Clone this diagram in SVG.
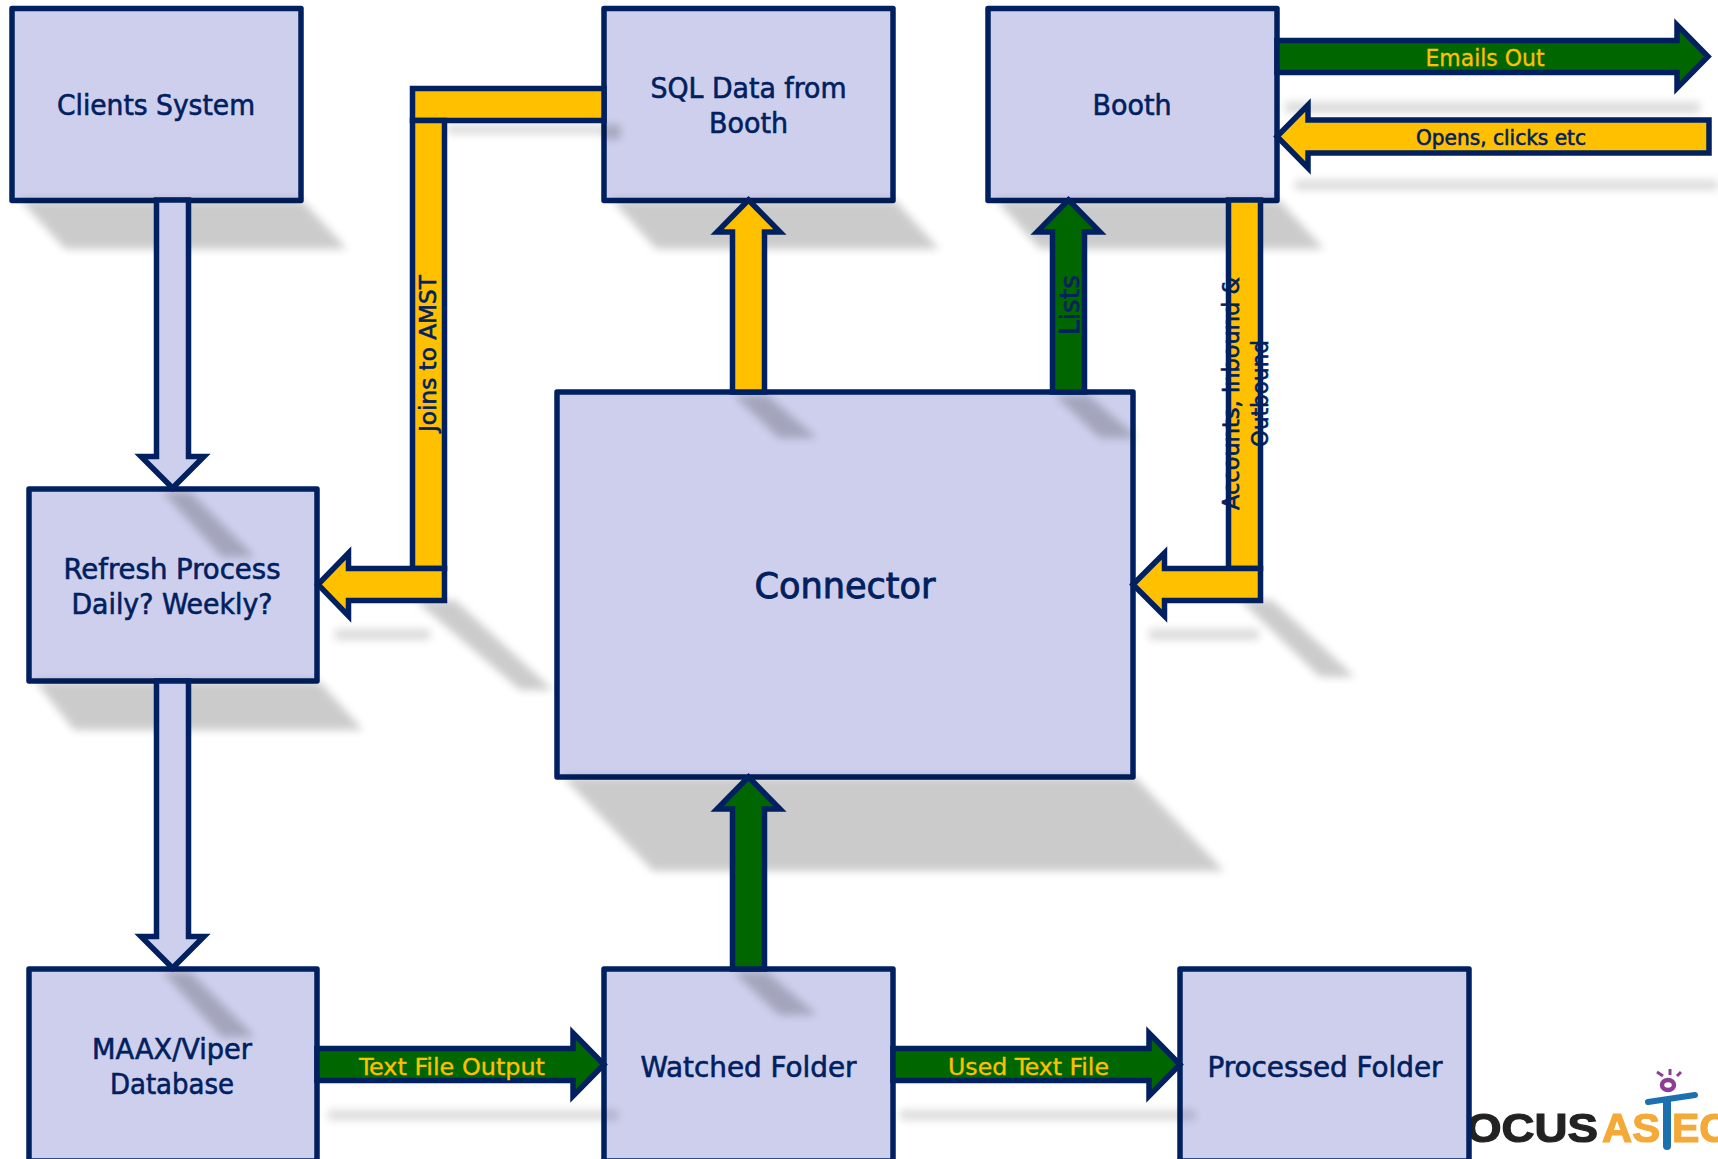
<svg xmlns="http://www.w3.org/2000/svg" width="1718" height="1159" viewBox="0 0 1718 1159">
<style>
text{font-family:"DejaVu Sans Condensed","DejaVu Sans",sans-serif;fill:#002060;stroke:#002060;stroke-width:.55;text-anchor:middle}
.box{fill:#cdcfec;stroke:#002060;stroke-width:5.5;stroke-linejoin:round}
.y{fill:#ffc000;stroke:#002060;stroke-width:5.5}
.g{fill:#006600;stroke:#002060;stroke-width:5.5}
.l{fill:#cdcfec;stroke:#002060;stroke-width:5.5}
.n{font-size:28px}
.a{font-size:23px}
text.on{fill:#ffc000;stroke:#ffc000;stroke-width:.3}
.sh{fill:#000;opacity:.2;filter:url(#b)}
.sf{fill:#000;opacity:.14;filter:url(#b)}
text.lg{font-family:"Liberation Sans",sans-serif;font-weight:700;font-size:41px;text-anchor:start;fill:#f4a937;stroke:#f4a937;stroke-width:1.2}
text.dk{fill:#222;stroke:#222}
</style>
<defs>
<filter id="b" filterUnits="userSpaceOnUse" x="0" y="0" width="1718" height="1159"><feGaussianBlur stdDeviation="4"/></filter>
<filter id="lb" filterUnits="userSpaceOnUse" x="1400" y="1050" width="318" height="109"><feGaussianBlur stdDeviation="0.6"/></filter>
</defs>
<rect width="1718" height="1159" fill="#fff"/>
<g id="logo" filter="url(#lb)">
<text class="lg dk" x="1466" y="1142" textLength="132" lengthAdjust="spacingAndGlyphs">OCUS</text>
<text class="lg" x="1602" y="1142" textLength="58" lengthAdjust="spacingAndGlyphs">AS</text>
<text class="lg" x="1672" y="1142">EC</text>
<path d="M1648 1102L1695 1095" fill="none" stroke="#1b6fb0" stroke-width="6" stroke-linecap="round"/>
<path d="M1667 1102V1146" fill="none" stroke="#1b6fb0" stroke-width="8" stroke-linecap="round"/>
<ellipse cx="1668" cy="1085" rx="6" ry="5" fill="none" stroke="#8e3c96" stroke-width="4.5"/>
<path d="M1657 1072L1663 1076M1670 1069V1075M1681 1072L1677 1076" fill="none" stroke="#8e3c96" stroke-width="3"/>
</g>
<g id="node-clients"><rect class="box" x="12" y="8.5" width="289" height="192"/><text class="n" x="156" y="115" textLength="198" lengthAdjust="spacingAndGlyphs">Clients System</text></g>
<g id="node-sql"><rect class="box" x="604" y="8.5" width="289" height="192"/><text class="n" x="748.5" y="98" textLength="196" lengthAdjust="spacingAndGlyphs">SQL Data from</text><text class="n" x="748.5" y="133" textLength="79" lengthAdjust="spacingAndGlyphs">Booth</text></g>
<g id="node-booth"><rect class="box" x="988" y="8.5" width="289" height="192"/><text class="n" x="1132" y="115" textLength="79" lengthAdjust="spacingAndGlyphs">Booth</text></g>
<g id="node-connector"><rect class="box" x="557" y="392" width="576" height="385"/><text x="845" y="598" style="font-size:36px;stroke-width:.8" textLength="181" lengthAdjust="spacingAndGlyphs">Connector</text></g>
<g id="node-refresh"><rect class="box" x="29" y="489" width="288" height="192"/><text class="n" x="172" y="579" textLength="217" lengthAdjust="spacingAndGlyphs">Refresh Process</text><text class="n" x="172" y="614" textLength="201" lengthAdjust="spacingAndGlyphs">Daily? Weekly?</text></g>
<g id="node-maax"><rect class="box" x="29" y="969" width="288" height="192"/><text class="n" x="172" y="1059" textLength="160" lengthAdjust="spacingAndGlyphs">MAAX/Viper</text><text class="n" x="172" y="1094" textLength="124" lengthAdjust="spacingAndGlyphs">Database</text></g>
<g id="node-watched"><rect class="box" x="604" y="969" width="289" height="192"/><text class="n" x="748.5" y="1077" textLength="216" lengthAdjust="spacingAndGlyphs">Watched Folder</text></g>
<g id="node-processed"><rect class="box" x="1180" y="969" width="289" height="192"/><text class="n" x="1325" y="1077" textLength="235" lengthAdjust="spacingAndGlyphs">Processed Folder</text></g>
<g id="shadows">
<polygon class="sh" points="20,200 65,249 347,249 302,200"/>
<polygon class="sh" points="35,681 74,730 363,730 319,681"/>
<polygon class="sh" points="612,200 656,249 939,249 895,200"/>
<polygon class="sh" points="996,200 1040,249 1324,249 1279,200"/>
<polygon class="sh" points="563,777 653,871 1224,871 1135,777"/>
<polygon class="sh" points="163,492 190,492 255,557 222,557"/>
<polygon class="sh" points="163,972 190,972 255,1037 222,1037"/>
<polygon class="sh" points="734,395 767,395 817,438 779,438"/>
<polygon class="sh" points="1055,395 1088,395 1138,438 1100,438"/>
<polygon class="sh" points="734,972 767,972 817,1015 779,1015"/>
<polygon class="sh" points="415,600 455,600 553,690 520,690"/>
<polygon class="sh" points="1240,600 1272,600 1355,677 1320,677"/>
<rect class="sf" x="335" y="629" width="95" height="11"/>
<rect class="sf" x="1149" y="629" width="110" height="11"/>
<rect class="sf" x="447" y="125" width="157" height="9"/>
<rect class="sh" x="604" y="125" width="16" height="14"/>
<rect class="sf" x="1285" y="102" width="415" height="11"/>
<rect class="sf" x="1295" y="180" width="423" height="10"/>
<rect class="sf" x="328" y="1110" width="290" height="10"/>
<rect class="sf" x="900" y="1110" width="295" height="10"/>
</g>
<g id="connectors">
<polygon class="l" points="156.5,200 188.5,200 188.5,456.5 204,456.5 172.5,488 141,456.5 156.5,456.5"/>
<polygon class="l" points="156.5,681 188.5,681 188.5,936.5 204,936.5 172.5,968 141,936.5 156.5,936.5"/>
<rect class="y" x="412.5" y="88.5" width="191.5" height="32"/>
<rect class="y" x="412.5" y="120.5" width="32" height="448"/>
<polygon class="y" points="318,584.5 348.5,553 348.5,568.5 444.5,568.5 444.5,600.5 348.5,600.5 348.5,616"/>
<text class="a" transform="translate(436 353.5) rotate(-90)" textLength="157" lengthAdjust="spacingAndGlyphs">Joins to AMST</text>
<polygon class="y" points="732.5,392 732.5,232 717,232 748.5,200 780,232 764.5,232 764.5,392"/>
<polygon class="g" points="1052.5,392 1052.5,232 1037,232 1068.5,200 1100,232 1084.5,232 1084.5,392"/>
<text transform="translate(1079 305) rotate(-90)" style="font-size:27px" textLength="60" lengthAdjust="spacingAndGlyphs">Lists</text>
<rect class="y" x="1228.5" y="200" width="32" height="368.5"/>
<polygon class="y" points="1133,584.5 1164.5,553 1164.5,568.5 1260.5,568.5 1260.5,600.5 1164.5,600.5 1164.5,616"/>
<text class="a" transform="translate(1239 393.5) rotate(-90)" textLength="233" lengthAdjust="spacingAndGlyphs">Accounts, Inbound &amp;</text>
<text class="a" transform="translate(1268 393.5) rotate(-90)" textLength="107" lengthAdjust="spacingAndGlyphs">Outbound</text>
<polygon class="g" points="1277,40.5 1677,40.5 1677,25 1708,56.5 1677,88 1677,72.5 1277,72.5"/>
<text class="a on" x="1485" y="66" textLength="119" lengthAdjust="spacingAndGlyphs">Emails Out</text>
<polygon class="y" points="1277,136.5 1308,105 1308,120 1709,120 1709,153 1308,153 1308,168"/>
<text x="1501" y="145" style="font-size:21px" textLength="170" lengthAdjust="spacingAndGlyphs">Opens, clicks etc</text>
<polygon class="g" points="732.5,969 732.5,809 717,809 748.5,777 780,809 764.5,809 764.5,969"/>
<polygon class="g" points="317,1048.5 573,1048.5 573,1033 604,1064.5 573,1096 573,1080.5 317,1080.5"/>
<text class="a on" x="452" y="1074.5" textLength="186" lengthAdjust="spacingAndGlyphs">Text File Output</text>
<polygon class="g" points="893,1048.5 1149,1048.5 1149,1033 1180,1064.5 1149,1096 1149,1080.5 893,1080.5"/>
<text class="a on" x="1028.5" y="1074.5" textLength="161" lengthAdjust="spacingAndGlyphs">Used Text File</text>
</g>
</svg>
